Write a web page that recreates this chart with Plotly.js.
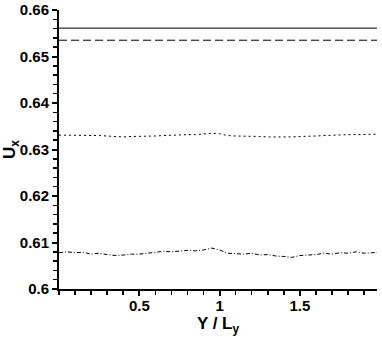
<!DOCTYPE html>
<html>
  <head>
    <title>Ux profile</title>
    <meta http-equiv="content-type" content="text/html; charset=utf-8" />
    <style>
      body {
        margin: 0;
        background-color: #FFFFFF;
      }
    </style>
    <script src="https://cdn.plot.ly/plotly-3.0.1.min.js"></script>
  </head>
  <body>
    <div id="graph" style="width:382px;height:337px;"></div>
    <script>
      var yPos = [0, 0.05, 0.1, 0.15, 0.2, 0.25, 0.3, 0.35, 0.4, 0.45,
                  0.5, 0.55, 0.6, 0.65, 0.7, 0.75, 0.8, 0.85, 0.9, 0.95,
                  1.0, 1.05, 1.1, 1.15, 1.2, 1.25, 1.3, 1.35, 1.4, 1.45,
                  1.5, 1.55, 1.6, 1.65, 1.7, 1.75, 1.8, 1.85, 1.9, 1.95, 1.98];

      var uxSolid = [0.6561, 0.6561, 0.6561, 0.6561, 0.6561, 0.6561, 0.6561, 0.6561, 0.6561, 0.6561,
                     0.6561, 0.6561, 0.6561, 0.6561, 0.6561, 0.6561, 0.6561, 0.6561, 0.6561, 0.6561,
                     0.6561, 0.6561, 0.6561, 0.6561, 0.6561, 0.6561, 0.6561, 0.6561, 0.6561, 0.6561,
                     0.6561, 0.6561, 0.6561, 0.6561, 0.6561, 0.6561, 0.6561, 0.6561, 0.6561, 0.6561, 0.6561];

      var uxDash = [0.6535, 0.6535, 0.6535, 0.6535, 0.6535, 0.6535, 0.6535, 0.6535, 0.6535, 0.6535,
                    0.6535, 0.6535, 0.6535, 0.6535, 0.6535, 0.6535, 0.6535, 0.6535, 0.6535, 0.6535,
                    0.6535, 0.6535, 0.6535, 0.6535, 0.6535, 0.6535, 0.6535, 0.6535, 0.6535, 0.6535,
                    0.6535, 0.6535, 0.6535, 0.6535, 0.6535, 0.6535, 0.6535, 0.6535, 0.6535, 0.6535, 0.6535];

      var uxDot = [0.6331, 0.6331, 0.6330, 0.6331, 0.6330, 0.6330, 0.6329, 0.6328, 0.6327, 0.6328,
                   0.6328, 0.6329, 0.6329, 0.6330, 0.6331, 0.6331, 0.6332, 0.6332, 0.6333, 0.6335,
                   0.6334, 0.6330, 0.6329, 0.6329, 0.6328, 0.6328, 0.6327, 0.6327, 0.6326, 0.6327,
                   0.6328, 0.6328, 0.6329, 0.6330, 0.6331, 0.6331, 0.6332, 0.6332, 0.6332, 0.6333, 0.6333];

      var uxDashDot = [0.6078, 0.6080, 0.6078, 0.6079, 0.6075, 0.6077, 0.6074, 0.6072, 0.6073, 0.6075,
                       0.6075, 0.6077, 0.6080, 0.6081, 0.6080, 0.6082, 0.6083, 0.6082, 0.6084, 0.6088,
                       0.6084, 0.6077, 0.6076, 0.6075, 0.6077, 0.6073, 0.6074, 0.6071, 0.6070, 0.6068,
                       0.6072, 0.6073, 0.6074, 0.6077, 0.6075, 0.6078, 0.6077, 0.6080, 0.6077, 0.6078, 0.6079];

      var xTicks = [0.5, 1, 1.5];
      var xTickText = ['0.5', '1', '1.5'];

      var fam = 'Liberation Sans, Arial, sans-serif';

      function makeSet(y, dash) {
        return {
          x: yPos,
          y: y,
          type: 'scatter',
          mode: 'lines',
          line: {color: '#000000', width: 1, dash: dash}
        };
      }

      var sets = [
        makeSet(uxSolid, 'solid'),
        makeSet(uxDash, '8px,4px'),
        makeSet(uxDot, '2px,3px'),
        makeSet(uxDashDot, '4px,2px,1px,2px')
      ];

      var options = {
        width: 382,
        height: 337,
        margin: {l: 59, r: 5, t: 10, b: 48},
        paper_bgcolor: '#FFFFFF',
        plot_bgcolor: '#FFFFFF',
        showlegend: false,
        xaxis: {
          range: [0, 1.98],
          tickmode: 'array',
          tickvals: xTicks,
          ticktext: xTickText,
          ticks: 'outside',
          ticklen: 5,
          tickwidth: 2,
          tickcolor: '#000000',
          ticklabelstandoff: -3,
          showline: true,
          linewidth: 2,
          linecolor: '#000000',
          showgrid: false,
          zeroline: false,
          tickfont: {family: fam, color: '#000000', weight: 'bold', size: 15},
          minor: {tickmode: 'linear', tick0: 0, dtick: 0.1, ticks: 'outside', ticklen: 4, tickwidth: 1.5, tickcolor: '#000000', showgrid: false},
          title: {text: 'Y / L<sub>y</sub>', standoff: 0, font: {family: fam, color: '#000000', weight: 'bold', size: 17}}
        },
        yaxis: {
          range: [0.6, 0.66],
          tickmode: 'linear',
          tick0: 0.6,
          dtick: 0.01,
          ticks: 'outside',
          ticklen: 5,
          tickwidth: 2,
          tickcolor: '#000000',
          showline: true,
          linewidth: 2,
          linecolor: '#000000',
          showgrid: false,
          zeroline: false,
          tickfont: {family: fam, color: '#000000', weight: 'bold', size: 15},
          minor: {dtick: 0.002, ticks: 'outside', ticklen: 4, tickwidth: 1.5, tickcolor: '#000000', showgrid: false},
          title: {text: 'U<sub>x</sub>', standoff: 4, font: {family: fam, color: '#000000', weight: 'bold', size: 17}}
        }
      };

      Plotly.newPlot('graph', sets, options, {displayModeBar: false, staticPlot: true});
    </script>
  </body>
</html>
